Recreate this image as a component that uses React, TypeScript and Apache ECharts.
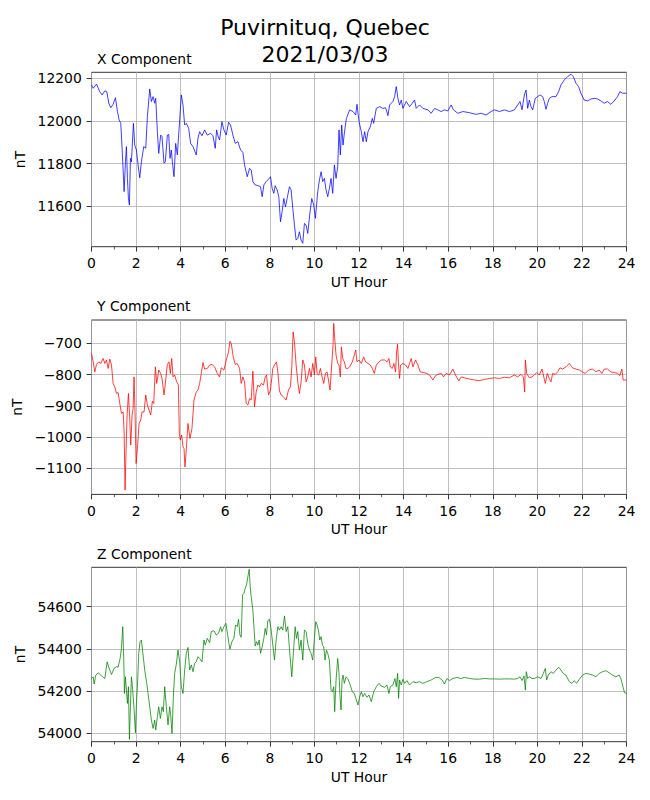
import React, { useEffect, useRef } from "react";
import * as echarts from "echarts";

const chartTitle = "Puvirnituq, Quebec\n2021/03/03";
const panelTitles = ["X Component", "Y Component", "Z Component"];
const xAxisName = "UT Hour";
const yAxisName = "nT";
const hourTicks = [0, 24];

const xRange = [11411, 12228];
const yRange = [-1183, -625];
const zRange = [53961, 54786];
const xTickValues = [11600, 11800, 12000, 12200];
const yTickValues = [-1100, -1000, -900, -800, -700];
const zTickValues = [54000, 54200, 54400, 54600];

const xComponent: [number, number][] = [
  [0, 12169], [0.075, 12153], [0.224, 12173], [0.373, 12137], [0.478, 12122], [0.597, 12141], [0.687, 12137], [0.776, 12083],
  [0.866, 12062], [0.97, 12078], [1.075, 12109], [1.164, 12044], [1.239, 12005], [1.313, 11989], [1.373, 11872], [1.463, 11669],
  [1.522, 11809], [1.567, 11880], [1.612, 11731], [1.657, 11637], [1.701, 11606], [1.746, 11825], [1.791, 11809], [1.881, 11989],
  [1.94, 11887], [2.015, 11864], [2.09, 11794], [2.164, 11734], [2.239, 11809], [2.343, 11880], [2.433, 11872], [2.507, 12020],
  [2.612, 12150], [2.687, 12091], [2.761, 12114], [2.836, 12083], [2.881, 12106], [2.955, 11950], [3.015, 11848], [3.104, 11934],
  [3.164, 11927], [3.254, 11802], [3.313, 11809], [3.403, 11934], [3.463, 11937], [3.522, 11825], [3.582, 11864], [3.627, 11809],
  [3.701, 11739], [3.776, 11895], [3.851, 11841], [3.955, 12005], [4.03, 12122], [4.104, 12075], [4.179, 11981], [4.254, 11989],
  [4.358, 11966], [4.448, 11895], [4.552, 11880], [4.701, 11841], [4.776, 11919], [4.851, 11950], [4.955, 11931], [5.075, 11958],
  [5.194, 11934], [5.343, 11942], [5.448, 11931], [5.552, 11872], [5.612, 11958], [5.672, 11931], [5.746, 11911], [5.851, 11997],
  [5.94, 11958], [6.045, 11934], [6.149, 11994], [6.239, 11981], [6.343, 11934], [6.448, 11895], [6.567, 11903], [6.687, 11864],
  [6.791, 11853], [6.866, 11794], [6.985, 11739], [7.09, 11778], [7.164, 11770], [7.239, 11716], [7.343, 11700], [7.463, 11697],
  [7.582, 11692], [7.657, 11645], [7.731, 11700], [7.836, 11716], [7.94, 11727], [8.03, 11739], [8.104, 11684], [8.179, 11661],
  [8.239, 11697], [8.328, 11677], [8.403, 11645], [8.478, 11528], [8.552, 11575], [8.627, 11637], [8.701, 11598], [8.776, 11637],
  [8.881, 11692], [8.955, 11677], [9.03, 11591], [9.104, 11512], [9.179, 11442], [9.254, 11450], [9.328, 11481], [9.403, 11442],
  [9.478, 11427], [9.552, 11520], [9.627, 11512], [9.701, 11473], [9.806, 11575], [9.881, 11637], [9.97, 11606], [10.045, 11544],
  [10.149, 11669], [10.224, 11723], [10.299, 11762], [10.373, 11716], [10.448, 11731], [10.522, 11677], [10.597, 11645], [10.672, 11684],
  [10.746, 11731], [10.821, 11661], [10.896, 11794], [10.97, 11731], [11.045, 11786], [11.104, 11958], [11.164, 11841], [11.224, 11981],
  [11.284, 11887], [11.343, 11942], [11.433, 12012], [11.582, 12052], [11.731, 12044], [11.851, 12028], [11.91, 12078], [12.0, 11997],
  [12.104, 11950], [12.179, 11903], [12.254, 11950], [12.328, 11903], [12.403, 11950], [12.507, 11973], [12.597, 12012], [12.657, 11989],
  [12.776, 12059], [12.925, 12067], [13.075, 12059], [13.194, 12062], [13.299, 12025], [13.373, 12075], [13.522, 12091], [13.597, 12114],
  [13.672, 12161], [13.746, 12106], [13.821, 12075], [13.896, 12098], [13.97, 12059], [14.119, 12091], [14.269, 12067], [14.388, 12083],
  [14.493, 12098], [14.567, 12059], [14.716, 12075], [14.866, 12059], [15.09, 12052], [15.239, 12036], [15.388, 12059], [15.537, 12052],
  [15.687, 12044], [15.836, 12052], [15.985, 12047], [16.134, 12075], [16.239, 12052], [16.433, 12036], [16.657, 12044], [16.955, 12039],
  [17.254, 12031], [17.478, 12036], [17.701, 12028], [17.925, 12044], [18.075, 12052], [18.299, 12044], [18.522, 12052], [18.746, 12044],
  [18.97, 12052], [19.119, 12075], [19.224, 12091], [19.313, 12052], [19.418, 12122], [19.493, 12145], [19.567, 12059], [19.642, 12098],
  [19.716, 12067], [19.791, 12052], [19.91, 12106], [20.015, 12114], [20.119, 12122], [20.239, 12114], [20.313, 12091], [20.388, 12055],
  [20.463, 12083], [20.537, 12106], [20.657, 12114], [20.836, 12114], [20.955, 12137], [21.06, 12169], [21.209, 12192], [21.358, 12208],
  [21.507, 12219], [21.612, 12208], [21.731, 12177], [21.851, 12161], [21.955, 12130], [22.104, 12098], [22.254, 12094], [22.403, 12103],
  [22.552, 12106], [22.701, 12103], [22.851, 12094], [23.0, 12083], [23.149, 12091], [23.299, 12078], [23.448, 12094], [23.597, 12114],
  [23.701, 12137], [23.821, 12130], [24.0, 12130],
];

const yComponent: [number, number][] = [
  [0, -732], [0.075, -759], [0.149, -791], [0.224, -767], [0.328, -759], [0.418, -764], [0.522, -748], [0.597, -764],
  [0.672, -753], [0.746, -780], [0.821, -750], [0.896, -769], [0.97, -828], [1.045, -839], [1.119, -860], [1.194, -857],
  [1.269, -892], [1.343, -924], [1.418, -919], [1.463, -983], [1.507, -1169], [1.552, -1036], [1.597, -929], [1.657, -860],
  [1.716, -940], [1.761, -1025], [1.821, -929], [1.866, -908], [1.91, -807], [1.955, -929], [2.0, -1084], [2.06, -1036],
  [2.134, -956], [2.209, -945], [2.269, -919], [2.358, -919], [2.433, -865], [2.507, -897], [2.582, -913], [2.657, -929],
  [2.731, -885], [2.791, -892], [2.866, -775], [2.925, -828], [3.015, -785], [3.104, -796], [3.164, -812], [3.254, -865],
  [3.328, -817], [3.403, -767], [3.478, -759], [3.537, -796], [3.597, -748], [3.657, -807], [3.731, -801], [3.821, -823],
  [3.896, -833], [3.94, -988], [3.985, -1009], [4.045, -993], [4.104, -1031], [4.149, -1036], [4.194, -1095], [4.254, -1036],
  [4.328, -956], [4.418, -1004], [4.507, -972], [4.597, -881], [4.701, -855], [4.776, -849], [4.851, -828], [4.925, -796],
  [5.0, -761], [5.075, -782], [5.194, -780], [5.299, -769], [5.403, -767], [5.522, -775], [5.642, -796], [5.746, -807],
  [5.821, -778], [5.94, -785], [6.045, -753], [6.149, -727], [6.209, -693], [6.269, -700], [6.358, -743], [6.448, -767],
  [6.537, -764], [6.642, -780], [6.716, -828], [6.791, -807], [6.866, -823], [6.94, -892], [7.015, -897], [7.09, -876],
  [7.164, -881], [7.239, -789], [7.313, -903], [7.388, -855], [7.463, -833], [7.537, -839], [7.612, -828], [7.716, -833],
  [7.791, -807], [7.851, -801], [7.94, -865], [8.03, -849], [8.134, -780], [8.209, -769], [8.299, -759], [8.358, -791],
  [8.433, -852], [8.507, -865], [8.597, -870], [8.731, -881], [8.836, -849], [8.925, -839], [8.985, -775], [9.045, -663],
  [9.104, -695], [9.179, -769], [9.254, -823], [9.328, -860], [9.403, -823], [9.478, -753], [9.552, -769], [9.627, -823],
  [9.701, -807], [9.776, -780], [9.851, -807], [9.925, -764], [10.0, -801], [10.06, -743], [10.119, -796], [10.194, -801],
  [10.269, -780], [10.343, -807], [10.418, -828], [10.493, -796], [10.567, -791], [10.642, -823], [10.701, -849], [10.776, -769],
  [10.836, -703], [10.866, -636], [10.91, -684], [10.97, -737], [11.045, -764], [11.104, -769], [11.164, -807], [11.209, -711],
  [11.269, -748], [11.343, -759], [11.418, -780], [11.493, -780], [11.582, -775], [11.701, -759], [11.791, -737], [11.851, -721],
  [11.91, -759], [12.0, -753], [12.104, -764], [12.209, -743], [12.299, -759], [12.403, -764], [12.507, -769], [12.597, -780],
  [12.687, -796], [12.776, -769], [12.896, -759], [13.0, -753], [13.149, -753], [13.254, -759], [13.343, -748], [13.403, -775],
  [13.493, -780], [13.567, -764], [13.642, -791], [13.687, -727], [13.731, -703], [13.776, -769], [13.821, -812], [13.866, -769],
  [13.97, -764], [14.09, -769], [14.194, -780], [14.269, -764], [14.343, -748], [14.418, -775], [14.537, -753], [14.642, -769],
  [14.746, -791], [14.896, -793], [15.045, -796], [15.164, -801], [15.313, -817], [15.433, -803], [15.537, -799], [15.687, -796],
  [15.791, -807], [15.91, -796], [16.06, -801], [16.209, -782], [16.328, -801], [16.478, -820], [16.582, -807], [16.731, -810],
  [16.955, -814], [17.179, -817], [17.403, -819], [17.627, -815], [17.851, -812], [18.075, -810], [18.299, -812], [18.522, -808],
  [18.746, -810], [18.97, -801], [19.119, -807], [19.269, -799], [19.373, -807], [19.433, -855], [19.463, -753], [19.522, -796],
  [19.642, -810], [19.761, -807], [19.866, -801], [19.97, -793], [20.09, -801], [20.209, -782], [20.269, -801], [20.358, -828],
  [20.448, -796], [20.537, -812], [20.612, -823], [20.687, -796], [20.806, -799], [20.91, -791], [21.015, -778], [21.134, -782],
  [21.284, -775], [21.433, -764], [21.582, -778], [21.731, -782], [21.881, -785], [22.03, -791], [22.149, -796], [22.299, -785],
  [22.478, -782], [22.627, -791], [22.776, -785], [22.896, -796], [23.0, -782], [23.149, -782], [23.299, -791], [23.448, -793],
  [23.597, -796], [23.701, -803], [23.791, -782], [23.851, -817], [24.0, -817],
];

const zComponent: [number, number][] = [
  [0, 54260], [0.075, 54268], [0.119, 54234], [0.194, 54276], [0.299, 54287], [0.418, 54276], [0.522, 54265], [0.597, 54260],
  [0.701, 54339], [0.776, 54313], [0.896, 54279], [1.015, 54308], [1.119, 54316], [1.194, 54313], [1.284, 54355], [1.343, 54403],
  [1.403, 54505], [1.448, 54347], [1.478, 54189], [1.522, 54268], [1.567, 54205], [1.612, 54142], [1.657, 54221], [1.701, 53972],
  [1.746, 54126], [1.791, 54268], [1.851, 54205], [1.91, 54111], [1.97, 54003], [2.015, 54142], [2.06, 54221], [2.119, 54379],
  [2.179, 54434], [2.239, 54442], [2.313, 54371], [2.388, 54300], [2.478, 54237], [2.537, 54189], [2.612, 54126], [2.687, 54063],
  [2.761, 54024], [2.836, 54063], [2.881, 54016], [2.955, 54079], [3.015, 54126], [3.09, 54071], [3.164, 54126], [3.224, 54103],
  [3.284, 54221], [3.358, 54126], [3.433, 54040], [3.507, 54126], [3.552, 54087], [3.612, 54000], [3.672, 54174], [3.731, 54284],
  [3.806, 54328], [3.881, 54395], [3.955, 54339], [4.03, 54221], [4.104, 54189], [4.179, 54300], [4.254, 54379], [4.328, 54407],
  [4.403, 54300], [4.478, 54324], [4.552, 54292], [4.627, 54332], [4.701, 54339], [4.776, 54363], [4.851, 54355], [4.955, 54339],
  [5.045, 54442], [5.104, 54418], [5.194, 54450], [5.299, 54429], [5.373, 54482], [5.493, 54486], [5.597, 54466], [5.701, 54474],
  [5.791, 54505], [5.851, 54482], [5.94, 54505], [6.03, 54521], [6.119, 54458], [6.209, 54398], [6.299, 54434], [6.388, 54450],
  [6.463, 54513], [6.537, 54505], [6.597, 54540], [6.657, 54466], [6.716, 54455], [6.776, 54655], [6.836, 54663], [6.896, 54687],
  [6.955, 54703], [7.015, 54742], [7.075, 54777], [7.119, 54695], [7.164, 54647], [7.239, 54584], [7.299, 54482], [7.343, 54414],
  [7.403, 54434], [7.463, 54418], [7.522, 54442], [7.582, 54379], [7.657, 54410], [7.731, 54450], [7.791, 54497], [7.851, 54466],
  [7.91, 54534], [7.985, 54540], [8.06, 54489], [8.134, 54418], [8.209, 54347], [8.284, 54442], [8.358, 54505], [8.433, 54489],
  [8.507, 54505], [8.582, 54489], [8.657, 54556], [8.731, 54482], [8.806, 54505], [8.896, 54379], [8.985, 54268], [9.075, 54410],
  [9.134, 54505], [9.194, 54450], [9.254, 54482], [9.328, 54395], [9.403, 54442], [9.478, 54347], [9.552, 54489], [9.627, 54482],
  [9.701, 54426], [9.776, 54395], [9.851, 54379], [9.925, 54347], [10.0, 54450], [10.06, 54529], [10.119, 54513], [10.179, 54489],
  [10.239, 54442], [10.299, 54458], [10.358, 54418], [10.418, 54410], [10.478, 54347], [10.537, 54395], [10.597, 54379], [10.672, 54347],
  [10.746, 54205], [10.806, 54197], [10.866, 54221], [10.91, 54103], [10.97, 54252], [11.045, 54355], [11.104, 54284], [11.149, 54174],
  [11.194, 54111], [11.239, 54252], [11.284, 54276], [11.343, 54237], [11.418, 54268], [11.493, 54260], [11.582, 54237], [11.701, 54197],
  [11.791, 54189], [11.881, 54158], [11.955, 54134], [12.03, 54174], [12.104, 54197], [12.179, 54174], [12.254, 54189], [12.358, 54171],
  [12.448, 54182], [12.552, 54150], [12.657, 54197], [12.776, 54221], [12.896, 54237], [13.0, 54224], [13.149, 54218], [13.254, 54229],
  [13.343, 54189], [13.403, 54221], [13.522, 54229], [13.612, 54260], [13.672, 54221], [13.731, 54284], [13.776, 54166], [13.821, 54253],
  [13.896, 54229], [13.97, 54256], [14.045, 54237], [14.149, 54250], [14.269, 54229], [14.418, 54245], [14.567, 54240], [14.716, 54245],
  [14.866, 54237], [15.045, 54245], [15.239, 54253], [15.433, 54265], [15.582, 54265], [15.731, 54253], [15.836, 54234], [15.94, 54260],
  [16.06, 54250], [16.209, 54260], [16.388, 54265], [16.582, 54260], [16.731, 54265], [16.955, 54260], [17.179, 54257], [17.403, 54257],
  [17.627, 54260], [17.851, 54258], [18.075, 54258], [18.299, 54257], [18.522, 54258], [18.746, 54258], [18.97, 54257], [19.119, 54260],
  [19.224, 54268], [19.313, 54250], [19.403, 54272], [19.463, 54205], [19.507, 54292], [19.567, 54260], [19.642, 54268], [19.761, 54260],
  [19.866, 54260], [20.015, 54268], [20.164, 54260], [20.269, 54284], [20.358, 54308], [20.418, 54253], [20.493, 54276], [20.612, 54292],
  [20.716, 54284], [20.836, 54300], [20.955, 54313], [21.06, 54300], [21.164, 54284], [21.284, 54276], [21.433, 54245], [21.552, 54237],
  [21.657, 54250], [21.761, 54237], [21.881, 54256], [22.03, 54276], [22.179, 54284], [22.328, 54281], [22.478, 54276], [22.627, 54268],
  [22.776, 54284], [22.925, 54292], [23.075, 54297], [23.224, 54287], [23.373, 54276], [23.522, 54268], [23.672, 54276], [23.746, 54260],
  [23.821, 54229], [23.91, 54193], [24.0, 54189],
];

const FONT = "DejaVu Sans";

export default function App() {
  const ref = useRef<HTMLDivElement>(null);

  useEffect(() => {
    document.body.style.margin = "0";
    if (!ref.current) return;
    const chart = echarts.init(ref.current, undefined, { renderer: "svg" });

    const gridTops = [72.3, 320, 567.3];
    const gridHeight = 174.4;
    const ranges = [xRange, yRange, zRange];
    const ticks = [xTickValues, yTickValues, zTickValues];
    const data = [xComponent, yComponent, zComponent];
    const colors = ["#0000ff", "#ff0000", "#008000"];
    const titleTops = [51, 298, 545.5];

    const grids = gridTops.map((t) => ({
      left: 91.5,
      top: t,
      width: 535,
      height: gridHeight,
      show: true,
      borderColor: "#000",
      borderWidth: 0.8,
      backgroundColor: "transparent",
      containLabel: false,
      outerBoundsMode: "none",
    }));

    const xAxes = gridTops.map((_, i) => ({
      type: "value",
      gridIndex: i,
      min: hourTicks[0],
      max: hourTicks[1],
      interval: 2,
      name: xAxisName,
      nameLocation: "middle",
      nameGap: 28,
      nameTextStyle: { color: "#000", fontSize: 13.9, fontFamily: FONT },
      axisLine: { show: false },
      axisTick: { show: true, length: 4.9, lineStyle: { color: "#000", width: 0.8 } },
      minorTick: { show: true, splitNumber: 2, length: 2.8, lineStyle: { color: "#000", width: 0.6 } },
      axisLabel: { color: "#000", fontSize: 13.9, fontFamily: FONT, margin: 9.7 },
      splitLine: { show: true, lineStyle: { color: "#b0b0b0", width: 0.8 } },
      minorSplitLine: { show: false },
    }));

    const yAxes = gridTops.map((_, i) => ({
      type: "value",
      gridIndex: i,
      min: ranges[i][0],
      max: ranges[i][1],
      minInterval: ticks[i][1] - ticks[i][0],
      maxInterval: ticks[i][1] - ticks[i][0],
      name: yAxisName,
      nameLocation: "middle",
      nameRotate: 90,
      nameGap: 58,
      nameTextStyle: { color: "#000", fontSize: 13.9, fontFamily: FONT },
      axisLine: { show: false },
      axisTick: { show: true, length: 4.9, lineStyle: { color: "#000", width: 0.8 }, customValues: ticks[i] },
      axisLabel: {
        color: "#000",
        fontSize: 13.9,
        fontFamily: FONT,
        margin: 9.7,
        customValues: ticks[i],
        formatter: (v: number) => (v < 0 ? "\u2212" + String(-v) : String(v)),
      },
      splitLine: { show: true, lineStyle: { color: "#b0b0b0", width: 0.8 } },
    }));

    const series = data.map((d, i) => ({
      type: "line",
      xAxisIndex: i,
      yAxisIndex: i,
      data: d,
      showSymbol: false,
      symbol: "none",
      lineStyle: { color: colors[i], width: 0.75 },
      z: 3,
    }));

    const titles: any[] = [
      {
        text: chartTitle,
        left: "center",
        top: 14,
        padding: 0,
        textStyle: { color: "#000", fontSize: 22, fontWeight: "normal", fontFamily: FONT, lineHeight: 26.7 },
      },
      ...panelTitles.map((t, i) => ({
        text: t,
        left: 97,
        top: titleTops[i],
        padding: 0,
        textStyle: { color: "#000", fontSize: 13.9, fontWeight: "normal", fontFamily: FONT, lineHeight: 16 },
      })),
    ];

    chart.setOption({
      animation: false,
      backgroundColor: "#fff",
      textStyle: { fontFamily: FONT },
      title: titles,
      grid: grids,
      xAxis: xAxes,
      yAxis: yAxes,
      series,
    } as any);

    return () => chart.dispose();
  }, []);

  return <div ref={ref} style={{ width: 650, height: 800 }} />;
}
